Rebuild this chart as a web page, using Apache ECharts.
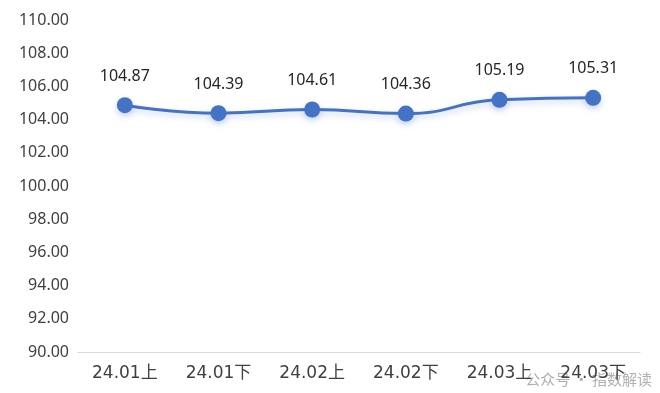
<!DOCTYPE html>
<html><head><meta charset="utf-8">
<script src="https://cdn.jsdelivr.net/npm/echarts@6/dist/echarts.min.js"></script>
<style>html,body{margin:0;padding:0;background:#fff}#c{width:660px;height:393px}</style>
</head><body><div id="c"></div>
<script>
const categories = ['24.01上','24.01下','24.02上','24.02下','24.03上','24.03下'];
const values = [104.87, 104.39, 104.61, 104.36, 105.19, 105.31];
const yMin = 90, yMax = 110, yStep = 2;
const chart = echarts.init(document.getElementById('c'));
chart.setOption({
  animation: false,
  backgroundColor: '#fff',
  grid: {left: 78, right: 20, top: 20, bottom: 41},
  xAxis: {
    type: 'category', data: categories, boundaryGap: true,
    axisLine: {lineStyle: {color: '#d9d9d9', width: 1}},
    axisTick: {show: false},
    axisLabel: {color: '#404040', fontSize: 17, margin: 13, fontFamily: '"DejaVu Sans", "Noto Sans CJK SC"'}
  },
  yAxis: {
    type: 'value', min: yMin, max: yMax, interval: yStep,
    splitLine: {show: false},
    axisLine: {show: false}, axisTick: {show: false},
    axisLabel: {color: '#404040', fontSize: 16, margin: 9, fontFamily: 'Noto Sans',
      formatter: v => v.toFixed(2)}
  },
  series: [{
    type: 'line', data: values, smooth: true,
    symbol: 'circle', symbolSize: 16,
    lineStyle: {color: '#4472C4', width: 3, shadowColor: 'rgba(68,114,196,0.3)', shadowBlur: 6, shadowOffsetY: 3},
    itemStyle: {color: '#4472C4', shadowColor: 'rgba(68,114,196,0.3)', shadowBlur: 6, shadowOffsetY: 3},
    label: {show: true, position: 'top', distance: 13, color: '#262626', fontSize: 16, fontFamily: 'Noto Sans',
      formatter: p => p.value.toFixed(2)}
  }],
  graphic: [{
    type: 'text', right: 8, bottom: 6,
    style: {text: '公众号 · 指数解读', fill: 'rgba(150,150,150,0.75)', fontSize: 15, fontFamily: 'Noto Sans CJK SC'}
  }]
});
</script></body></html>
